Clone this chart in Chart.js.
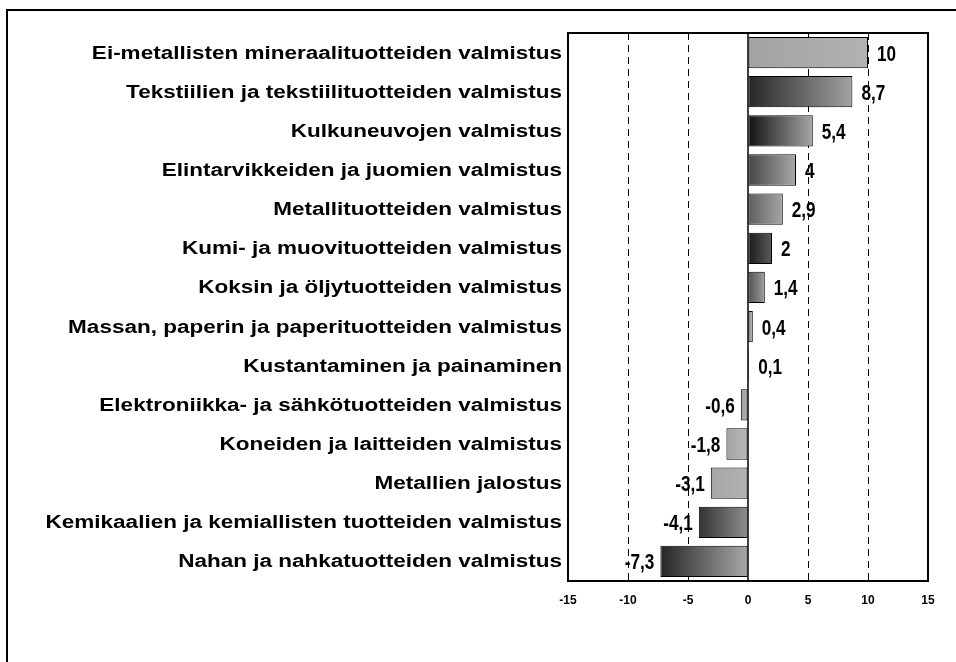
<!DOCTYPE html>
<html>
<head>
<meta charset="utf-8">
<script src="https://cdn.jsdelivr.net/npm/chart.js@4/dist/chart.umd.min.js"></script>
<style>
  html, body { margin: 0; padding: 0; background: #fff; }
  #wrap { width: 956px; height: 662px; position: relative; }
</style>
</head>
<body>
<div id="wrap"><canvas id="chart"></canvas></div>
<script>
// toimialat ja muutos (%)
const categories = [
    'Ei-metallisten mineraalituotteiden valmistus',
    'Tekstiilien ja tekstiilituotteiden valmistus',
    'Kulkuneuvojen valmistus',
    'Elintarvikkeiden ja juomien valmistus',
    'Metallituotteiden valmistus',
    'Kumi- ja muovituotteiden valmistus',
    'Koksin ja öljytuotteiden valmistus',
    'Massan, paperin ja paperituotteiden valmistus',
    'Kustantaminen ja painaminen',
    'Elektroniikka- ja sähkötuotteiden valmistus',
    'Koneiden ja laitteiden valmistus',
    'Metallien jalostus',
    'Kemikaalien ja kemiallisten tuotteiden valmistus',
    'Nahan ja nahkatuotteiden valmistus'
];
const values = [10, 8.7, 5.4, 4, 2.9, 2, 1.4, 0.4, 0.1, -0.6, -1.8, -3.1, -4.1, -7.3];
const xTicks = [-15, -10, -5, 0, 5, 10, 15];

// harmaasävyt palkeille (tumma -> vaalea)
const darkTones = ['#a2a2a2', '#262626', '#121212', '#464646', '#5e5e5e', '#1a1a1a', '#505050',
                   '#8e8e8e', '#909090', '#9c9c9c', '#a4a4a4', '#a6a6a6', '#333333', '#262626'];
const lightTones = ['#b2b2b2', '#a2a2a2', '#a6a6a6', '#a8a8a8', '#a6a6a6', '#5a5a5a', '#9e9e9e',
                    '#b0b0b0', '#a0a0a0', '#b0b0b0', '#b8b8b8', '#b2b2b2', '#8e8e8e', '#a8a8a8'];

const LABEL_FONT = 'bold 18px "Liberation Sans", Arial, sans-serif';
const VALUE_FONT = 'bold 22px "Liberation Sans", Arial, sans-serif';

function barFill(ctx) {
    const chart = ctx.chart;
    const i = ctx.dataIndex;
    if (!chart.chartArea || i === undefined) return darkTones[i] || '#999';
    const xs = chart.scales.x;
    const a = xs.getPixelForValue(0);
    const b = xs.getPixelForValue(values[i]);
    const left = Math.min(a, b), right = Math.max(a, b);
    if (right - left < 1) return darkTones[i];
    const g = chart.ctx.createLinearGradient(left, 0, right, 0);
    g.addColorStop(0, darkTones[i]);
    g.addColorStop(1, lightTones[i]);
    return g;
}

// kategorianimet, arvot palkkien päihin + kehykset
const decorations = {
    id: 'decorations',
    afterDatasetsDraw(chart) {
        const c = chart.ctx;
        const area = chart.chartArea;
        const xs = chart.scales.x;
        const ys = chart.scales.y;
        const meta = chart.getDatasetMeta(0);
        c.save();
        // nollaviiva
        c.strokeStyle = '#000';
        c.lineWidth = 1.5;
        const x0 = xs.getPixelForValue(0);
        c.beginPath();
        c.moveTo(x0, area.top);
        c.lineTo(x0, area.bottom);
        c.stroke();
        // kuva-alueen kehys
        c.lineWidth = 2;
        c.strokeRect(area.left, area.top, area.right - area.left, area.bottom - area.top);
        // ulkokehys
        c.beginPath();
        c.moveTo(7, 670);
        c.lineTo(7, 10);
        c.lineTo(960, 10);
        c.stroke();

        c.fillStyle = '#000';
        c.textBaseline = 'middle';
        // kategorianimet (leveä kirjasin)
        c.font = LABEL_FONT;
        categories.forEach((name, i) => {
            c.save();
            c.translate(area.left - 6, ys.getPixelForValue(i) + 1);
            c.scale(1.25, 1);
            c.textAlign = 'right';
            c.fillText(name, 0, 0);
            c.restore();
        });

        // arvot (kapea kirjasin)
        c.font = VALUE_FONT;
        meta.data.forEach((bar, i) => {
            const v = values[i];
            const txt = String(v).replace('.', ',');
            c.save();
            if (v >= 0) {
                c.translate(bar.x + 9, bar.y + 2);
                c.textAlign = 'left';
            } else {
                c.translate(bar.x - 6, bar.y + 2);
                c.textAlign = 'right';
            }
            c.scale(0.78, 1);
            c.fillText(txt, 0, 0);
            c.restore();
        });
        c.restore();
    }
};

new Chart(document.getElementById('chart'), {
    type: 'bar',
    data: {
        labels: categories,
        datasets: [{
            data: values,
            backgroundColor: barFill,
            borderColor: '#000',
            borderWidth: 1,
            borderSkipped: false,
            barPercentage: 0.8,
            categoryPercentage: 1
        }]
    },
    options: {
        indexAxis: 'y',
        responsive: true,
        maintainAspectRatio: false,
        animation: false,
        layout: { padding: { top: 33, right: 28, bottom: 41, left: 0 } },
        plugins: {
            legend: { display: false },
            tooltip: { enabled: false }
        },
        scales: {
            x: {
                min: -15,
                max: 15,
                afterBuildTicks: (scale) => { scale.ticks = xTicks.map(v => ({ value: v })); },
                grid: {
                    color: (ctx) => {
                        const v = ctx.tick && ctx.tick.value;
                        return (v === -15 || v === 0 || v === 15) ? 'rgba(0,0,0,0)' : '#000';
                    },
                    lineWidth: 1,
                    drawTicks: false
                },
                border: { display: false, dash: [7, 5] },
                ticks: {
                    color: '#000',
                    padding: 12,
                    maxRotation: 0,
                    font: { family: '"Liberation Sans", Arial, sans-serif', size: 12, weight: 'bold' }
                },
                afterFit: (scale) => { scale.height = 40; }
            },
            y: {
                grid: { display: false, drawTicks: false },
                border: { display: false },
                ticks: { display: false },
                afterFit: (scale) => { scale.width = 568; }
            }
        }
    },
    plugins: [decorations]
});
</script>
</body>
</html>
